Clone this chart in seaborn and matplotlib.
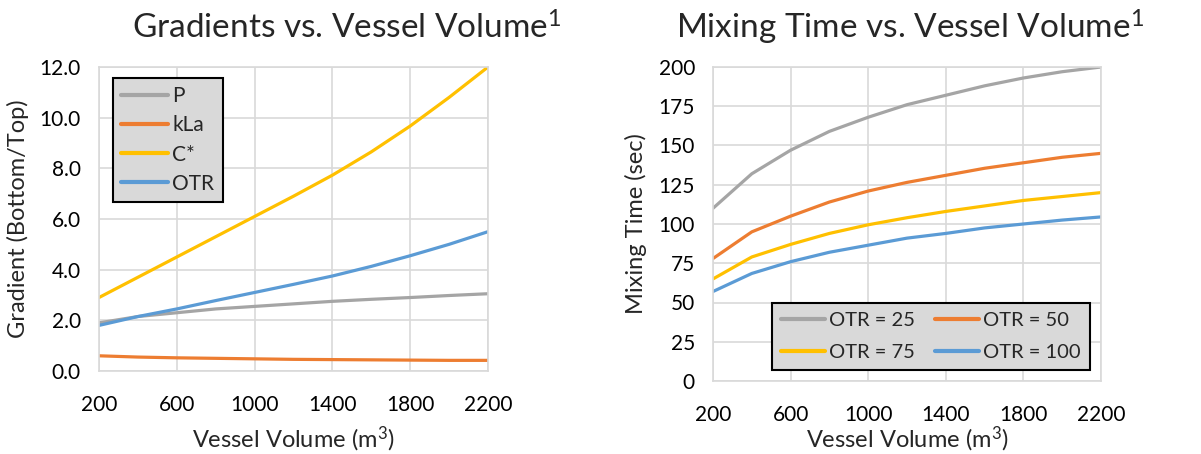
import numpy as np
import pandas as pd
import matplotlib
matplotlib.use("Agg")
import matplotlib.pyplot as plt
import seaborn as sns

# ---- data ----
volume = [200, 400, 600, 800, 1000, 1200, 1400, 1600, 1800, 2000, 2200]

grad_P   = [1.90, 2.15, 2.30, 2.45, 2.55, 2.65, 2.75, 2.83, 2.90, 2.98, 3.05]
grad_kLa = [0.60, 0.55, 0.52, 0.50, 0.48, 0.46, 0.45, 0.44, 0.43, 0.42, 0.42]
grad_C   = [2.90, 3.70, 4.50, 5.30, 6.10, 6.90, 7.73, 8.65, 9.67, 10.80, 12.00]
grad_OTR = [1.80, 2.15, 2.45, 2.78, 3.10, 3.42, 3.75, 4.13, 4.55, 5.00, 5.50]
grad_names = ["P", "kLa", "C*", "OTR"]

mix_25  = [110, 132, 147, 159, 168, 176, 182, 188, 193, 197, 200]
mix_50  = [78, 95, 105, 114, 121, 126.5, 131, 135.5, 139, 142.5, 145]
mix_75  = [65, 79, 87, 94, 99.5, 104, 108, 111.5, 115, 117.5, 120]
mix_100 = [57, 68.5, 76, 82, 86.5, 91, 94, 97.5, 100, 102.5, 104.5]
mix_names = ["OTR = 25", "OTR = 50", "OTR = 75", "OTR = 100"]

x_ticks = [200, 600, 1000, 1400, 1800, 2200]
colors = ["#A5A5A5", "#ED7D31", "#FFC000", "#5B9BD5"]

sns.set_theme(style="whitegrid")
plt.rcParams["font.family"] = ["Lato", "DejaVu Sans"]
plt.rcParams["mathtext.fontset"] = "custom"
plt.rcParams["mathtext.rm"] = "Lato"
plt.rcParams["mathtext.it"] = "Lato"

df1 = pd.DataFrame({
    "Volume": volume * 4,
    "Value": grad_P + grad_kLa + grad_C + grad_OTR,
    "Series": sum([[n] * len(volume) for n in grad_names], []),
})
df2 = pd.DataFrame({
    "Volume": volume * 4,
    "Value": mix_25 + mix_50 + mix_75 + mix_100,
    "Series": sum([[n] * len(volume) for n in mix_names], []),
})

W, H = 1201, 454
fig = plt.figure(figsize=(W / 100, H / 100), dpi=100)
ax1 = fig.add_axes([99 / W, (H - 371) / H, (488 - 99) / W, (371 - 67) / H])
ax2 = fig.add_axes([713 / W, (H - 381) / H, (1101 - 713) / W, (381 - 67) / H])

grid_c = "#D9D9D9"
for ax, df in ((ax1, df1), (ax2, df2)):
    sns.lineplot(data=df, x="Volume", y="Value", hue="Series", palette=colors,
                 linewidth=2.3, ax=ax, legend=True)
    ax.set_facecolor("white")
    ax.grid(True, color=grid_c, linewidth=1.2)
    for s in ax.spines.values():
        s.set_color(grid_c)
        s.set_linewidth(1.2)
    ax.set_xlim(200, 2200)
    ax.set_xticks(x_ticks)
    ax.tick_params(axis="both", labelsize=15, length=0, pad=13, colors="black")
    ax.tick_params(axis="x", pad=17)

ax1.set_xlabel("Vessel Volume (m$^3$)", fontsize=17, labelpad=7)
ax2.set_xlabel("Vessel Volume (m$^3$)", fontsize=17, labelpad=0)

ax1.set_ylim(0, 12)
ax1.set_yticks(np.arange(0, 12.1, 2))
ax1.set_yticklabels([f"{v:.1f}" for v in np.arange(0, 12.1, 2)])
ax1.set_ylabel("Gradient (Bottom/Top)", fontsize=17, labelpad=8)
ax1.set_title("Gradients vs. Vessel Volume$^1$", fontsize=24, pad=20, x=0.638)

ax2.set_ylim(0, 200)
ax2.set_yticks(np.arange(0, 201, 25))
ax2.set_ylabel("Mixing Time (sec)", fontsize=17, labelpad=8)
ax2.set_title("Mixing Time vs. Vessel Volume$^1$", fontsize=24, pad=20, x=0.507)

leg1 = ax1.legend(loc="upper left", bbox_to_anchor=(0.036, 0.964), borderaxespad=0,
                  fontsize=15, frameon=True, fancybox=False, handlelength=2.25,
                  handletextpad=0.2, labelspacing=0.44, borderpad=0.4, title=None)
h, l = ax2.get_legend_handles_labels()
order = [0, 2, 1, 3]
leg2 = ax2.legend([h[i] for i in order], [l[i] for i in order],
                  loc="lower right", bbox_to_anchor=(0.972, 0.035), borderaxespad=0,
                  ncol=2, fontsize=14.5, frameon=True, fancybox=False,
                  handlelength=2.2, handletextpad=0.2, labelspacing=0.75,
                  columnspacing=1.0, borderpad=0.45, title=None)
for leg in (leg1, leg2):
    fr = leg.get_frame()
    fr.set_facecolor("#D9D9D9")
    fr.set_edgecolor("black")
    fr.set_linewidth(1.5)
    fr.set_alpha(1)
    for ln in leg.get_lines():
        ln.set_linewidth(3)

fig.savefig("out.png", dpi=100)
